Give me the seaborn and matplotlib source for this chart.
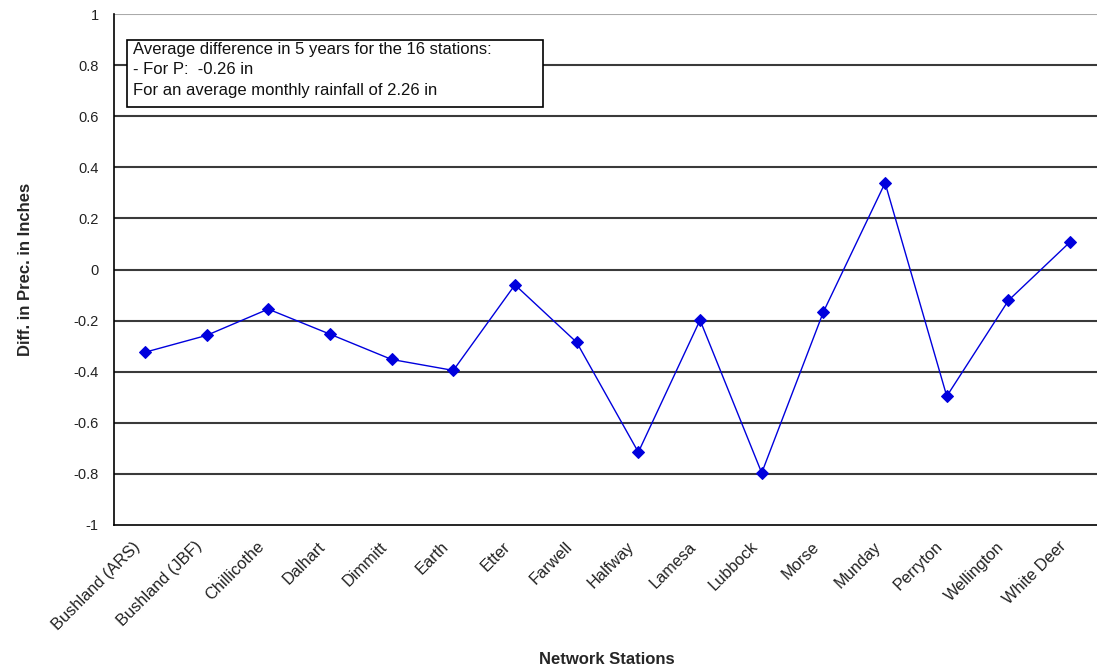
import pandas as pd
import seaborn as sns
import matplotlib.pyplot as plt
import matplotlib.transforms as mtrans
from matplotlib.patches import Rectangle

stations = ['Bushland (ARS)', 'Bushland (JBF)', 'Chillicothe', 'Dalhart', 'Dimmitt', 'Earth',
            'Etter', 'Farwell', 'Halfway', 'Lamesa', 'Lubbock', 'Morse', 'Munday', 'Perryton',
            'Wellington', 'White Deer']
diff = [-0.324, -0.258, -0.155, -0.253, -0.352, -0.395, -0.060, -0.285, -0.715, -0.198,
        -0.796, -0.166, 0.339, -0.496, -0.121, 0.108]
yticks = [-1, -0.8, -0.6, -0.4, -0.2, 0, 0.2, 0.4, 0.6, 0.8, 1]
ytick_labels = ['-1', '-0.8', '-0.6', '-0.4', '-0.2', '0', '0.2', '0.4', '0.6', '0.8', '1']

df = pd.DataFrame({'station': stations, 'diff': diff})
df['pos'] = range(len(df))

sns.set_style('white')
plt.rcParams['font.family'] = ['Liberation Sans', 'DejaVu Sans']

fig = plt.figure(figsize=(10.97, 6.68), dpi=100)
ax = fig.add_axes([114/1097, 143/668, 987/1097, 511/668])

# gridlines
for y in yticks[1:]:
    ax.axhline(y, color='#aaaaaa' if y == 1 else '#3a3a3a', lw=1.5, zorder=1)

sns.lineplot(data=df, x='pos', y='diff', ax=ax, color='#0000dd', lw=1,
             marker='D', markersize=6, markeredgecolor='#0000dd', sort=False, zorder=3)

n = len(stations)
ax.set_xlim(-0.5, n - 0.5)
ax.set_ylim(-1, 1)
ax.set_yticks(yticks)
ax.set_yticklabels(ytick_labels, fontsize=10.5, color='#222222')

ax.set_xticks(range(n))
ax.set_xticklabels(stations, rotation=45, ha='right', rotation_mode='anchor',
                   fontsize=11.8, color='#222222')
ax.set_xticks([i - 0.5 for i in range(n + 1)], minor=True)
ax.tick_params(axis='x', which='major', length=0, pad=10)
ax.tick_params(axis='x', which='minor', length=5, width=1, color='black', direction='out')
ax.tick_params(axis='y', length=5, width=1, color='black', direction='out', pad=6)

# nudge the slanted labels a bit left, like excel does
shift = mtrans.ScaledTranslation(-12/100, 0, fig.dpi_scale_trans)
for lbl in ax.get_xticklabels():
    lbl.set_transform(lbl.get_transform() + shift)

for s in ['top', 'right']:
    ax.spines[s].set_visible(False)
for s in ['left', 'bottom']:
    ax.spines[s].set_color('black')
    ax.spines[s].set_linewidth(1.2)

ax.set_xlabel('Network Stations', fontsize=12, fontweight='bold')
ax.xaxis.set_label_coords((607 - 114) / 987, -(652 - 525) / 511)
ax.set_ylabel('Diff. in Prec. in Inches', fontsize=12, fontweight='bold')
ax.yaxis.set_label_coords(-(114 - 33) / 987, 0.5)

# annotation box
fig.patches.append(Rectangle((127/1097, (668 - 107)/668), (543 - 127)/1097, 67/668,
                             transform=fig.transFigure, fc='white', ec='black', lw=1.2, zorder=5))
fig.text(133/1097, (668 - 42)/668,
         'Average difference in 5 years for the 16 stations:\n- For P:  -0.26 in\nFor an average monthly rainfall of 2.26 in',
         fontsize=12, va='top', ha='left', linespacing=1.45, color='#111111', zorder=6)

fig.savefig('out.png', dpi=100)
